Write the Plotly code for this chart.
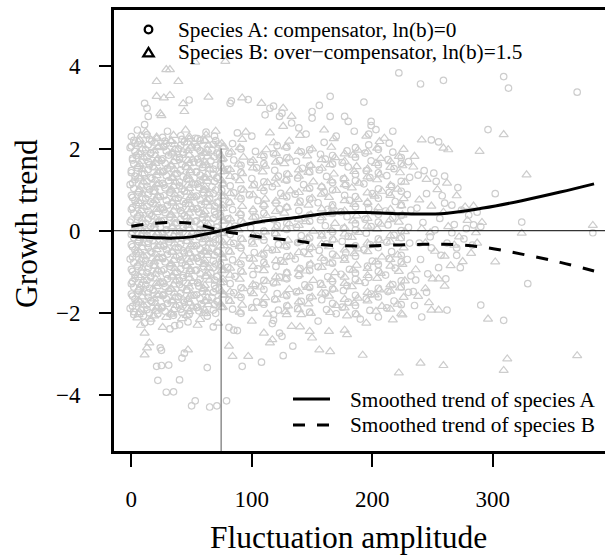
import plotly.graph_objects as go

# ---------------- data ----------------
x_ticks = [0, 100, 200, 300]
y_ticks = [-4, -2, 0, 2, 4]
x_range = [-14.4, 393.1]
y_range = [-5.36, 5.37]
threshold_x = 74.5
threshold_top = 2.0

trend_x = [0, 20, 35, 50, 62, 74, 90, 109, 137, 163, 195, 227, 260, 292, 324, 356, 384]
trend_a = [-0.14, -0.17, -0.18, -0.15, -0.08, 0.0, 0.12, 0.23, 0.32, 0.42, 0.44, 0.41, 0.42, 0.55, 0.73, 0.94, 1.14]
trend_b = [0.11, 0.18, 0.2, 0.18, 0.1, 0.0, -0.08, -0.16, -0.25, -0.35, -0.37, -0.34, -0.33, -0.40, -0.57, -0.77, -0.98]

# Species A (circles)
a_core_left = [
    (0,2.29),(13,2.33),(26,2.27),(41,2.31),(53,2.25),(69,2.3),
    (3,2.13),(17,2.18),(29,2.12),(44,2.16),(57,2.19),(72,2.11),
    (-1,2.02),(12,1.97),(27,2.04),(39,1.99),(55,2.01),(67,1.96),
    (4,1.83),(16,1.88),(31,1.84),(43,1.86),(58,1.82),(73,1.87),
    (1,1.72),(14,1.68),(25,1.71),(40,1.73),(52,1.67),(66,1.7),
    (5,1.53),(18,1.57),(30,1.52),(45,1.56),(59,1.54),(74,1.58),
    (0,1.41),(11,1.38),(26,1.43),(38,1.39),(54,1.42),(68,1.37),
    (3,1.24),(17,1.27),(31,1.22),(46,1.26),(57,1.23),(71,1.28),
    (-1,1.12),(13,1.08),(27,1.11),(40,1.09),(53,1.13),(67,1.07),
    (6,0.94),(19,0.97),(32,0.93),(44,0.96),(60,0.92),(75,0.98),
    (1,0.81),(12,0.78),(24,0.83),(39,0.79),(52,0.82),(65,0.77),
    (4,0.63),(18,0.67),(30,0.62),(45,0.66),(58,0.64),(72,0.68),
    (0,0.52),(14,0.48),(27,0.51),(41,0.49),(54,0.53),(69,0.47),
    (5,0.34),(17,0.37),(32,0.33),(44,0.36),(59,0.32),(74,0.38),
    (-1,0.21),(12,0.18),(25,0.23),(38,0.19),(53,0.22),(66,0.17),
    (3,0.04),(19,0.07),(29,0.02),(43,0.06),(57,0.03),(71,0.08),
    (0,-0.09),(13,-0.12),(26,-0.08),(40,-0.11),(55,-0.07),(68,-0.13),
    (6,-0.26),(18,-0.23),(31,-0.27),(46,-0.24),(59,-0.28),(73,-0.22),
    (1,-0.39),(14,-0.42),(27,-0.38),(39,-0.41),(52,-0.37),(67,-0.43),
    (4,-0.56),(17,-0.53),(30,-0.57),(44,-0.54),(58,-0.58),(72,-0.52),
    (-1,-0.69),(12,-0.72),(26,-0.68),(41,-0.71),(54,-0.67),(68,-0.73),
    (5,-0.86),(19,-0.83),(32,-0.87),(45,-0.84),(60,-0.88),(74,-0.82),
    (1,-0.99),(13,-1.02),(25,-0.98),(38,-1.01),(53,-0.97),(66,-1.03),
    (3,-1.16),(16,-1.13),(30,-1.17),(43,-1.14),(57,-1.18),(71,-1.12),
    (0,-1.29),(12,-1.32),(27,-1.28),(40,-1.31),(55,-1.27),(69,-1.33),
    (6,-1.46),(18,-1.43),(31,-1.47),(46,-1.44),(59,-1.48),(73,-1.42),
    (1,-1.59),(14,-1.62),(26,-1.58),(39,-1.61),(52,-1.57),(67,-1.63),
    (4,-1.76),(17,-1.73),(30,-1.77),(44,-1.74),(58,-1.78),(72,-1.72),
    (-1,-1.89),(13,-1.92),(25,-1.88),(41,-1.91),(54,-1.87),(68,-1.93),
    (2,-2.04),(10,-2.07),(22,-2.02),(35,-2.06),(48,-2.03),(63,-2.08),
]
a_fill_left = [
    (2,2.2),(15,2.23),(28,2.18),(42,2.22),(55,2.24),(70,2.19),
    (0,2.06),(14,2.09),(27,2.05),(41,2.08),(54,2.04),(68,2.1),
    (3,1.93),(16,1.9),(29,1.94),(43,1.91),(57,1.95),(71,1.89),
    (1,1.76),(13,1.79),(26,1.75),(40,1.78),(55,1.74),(69,1.8),
    (2,1.63),(15,1.6),(28,1.64),(42,1.61),(56,1.65),(70,1.59),
    (0,1.46),(14,1.49),(27,1.45),(41,1.48),(54,1.44),(68,1.5),
    (3,1.33),(16,1.3),(29,1.34),(43,1.31),(57,1.35),(71,1.29),
    (1,1.16),(13,1.19),(26,1.15),(40,1.18),(55,1.14),(69,1.2),
    (2,1.03),(15,1.0),(28,1.04),(42,1.01),(56,1.05),(70,0.99),
    (0,0.86),(14,0.89),(27,0.85),(41,0.88),(54,0.84),(68,0.9),
    (3,0.73),(16,0.7),(29,0.74),(43,0.71),(57,0.75),(71,0.69),
    (1,0.56),(13,0.59),(26,0.55),(40,0.58),(55,0.54),(69,0.6),
    (2,0.43),(15,0.4),(28,0.44),(42,0.41),(56,0.45),(70,0.39),
    (0,0.26),(14,0.29),(27,0.25),(41,0.28),(54,0.24),(68,0.3),
    (3,0.13),(16,0.1),(29,0.14),(43,0.11),(57,0.15),(71,0.09),
    (1,-0.04),(13,-0.01),(26,-0.05),(40,-0.02),(55,-0.06),(69,0.0),
    (2,-0.17),(15,-0.2),(28,-0.16),(42,-0.19),(56,-0.15),(70,-0.21),
    (0,-0.34),(14,-0.31),(27,-0.35),(41,-0.32),(54,-0.36),(68,-0.3),
    (3,-0.47),(16,-0.5),(29,-0.46),(43,-0.49),(57,-0.45),(71,-0.51),
    (1,-0.64),(13,-0.61),(26,-0.65),(40,-0.62),(55,-0.66),(69,-0.6),
    (2,-0.77),(15,-0.8),(28,-0.76),(42,-0.79),(56,-0.75),(70,-0.81),
    (0,-0.94),(14,-0.91),(27,-0.95),(41,-0.92),(54,-0.96),(68,-0.9),
    (3,-1.07),(16,-1.1),(29,-1.06),(43,-1.09),(57,-1.05),(71,-1.11),
    (1,-1.24),(13,-1.21),(26,-1.25),(40,-1.22),(55,-1.26),(69,-1.2),
    (2,-1.37),(15,-1.4),(28,-1.36),(42,-1.39),(56,-1.35),(70,-1.41),
    (0,-1.54),(14,-1.51),(27,-1.55),(41,-1.52),(54,-1.56),(68,-1.5),
    (3,-1.67),(16,-1.7),(29,-1.66),(43,-1.69),(57,-1.65),(71,-1.71),
    (1,-1.84),(13,-1.81),(26,-1.85),(40,-1.82),(55,-1.86),(69,-1.8),
    (2,-1.97),(15,-2.0),(28,-1.96),(42,-1.99),(56,-1.95),(70,-2.01),
]
a_core_mid = [
    (84,2.12),(121,2.07),(160,2.15),(197,2.09),(214,2.13),
    (81,1.88),(103,1.93),(118,1.87),(141,1.92),(157,1.86),(179,1.94),(194,1.89),(217,1.91),
    (85,1.72),(99,1.67),(123,1.71),(137,1.69),(161,1.74),(175,1.66),(199,1.7),(213,1.73),(230,1.68),
    (80,1.49),(104,1.53),(119,1.47),(142,1.52),(156,1.48),(180,1.55),(195,1.46),(218,1.51),
    (86,1.31),(100,1.27),(122,1.33),(138,1.28),(162,1.32),(176,1.26),(198,1.29),(212,1.34),(231,1.3),
    (82,1.09),(102,1.13),(117,1.07),(143,1.12),(158,1.06),(178,1.11),(193,1.14),(216,1.08),
    (85,0.92),(98,0.87),(124,0.91),(136,0.89),(160,0.94),(177,0.86),(200,0.9),(214,0.93),(229,0.88),
    (81,0.69),(105,0.73),(120,0.67),(140,0.72),(155,0.68),(181,0.74),(196,0.66),(219,0.71),
    (84,0.51),(101,0.47),(123,0.53),(139,0.49),(163,0.52),(174,0.46),(197,0.54),(211,0.48),(232,0.5),
    (80,0.29),(103,0.33),(118,0.27),(144,0.31),(157,0.26),(179,0.34),(194,0.28),(217,0.32),
    (86,0.11),(99,0.07),(121,0.13),(137,0.09),(161,0.12),(176,0.06),(199,0.1),(213,0.14),(230,0.08),
    (82,-0.09),(104,-0.13),(119,-0.07),(141,-0.12),(158,-0.08),(180,-0.14),(195,-0.06),(218,-0.11),
    (85,-0.31),(100,-0.27),(122,-0.33),(138,-0.29),(162,-0.32),(175,-0.26),(198,-0.34),(212,-0.28),(231,-0.3),
    (81,-0.49),(102,-0.53),(117,-0.47),(143,-0.52),(156,-0.48),(178,-0.54),(193,-0.46),(216,-0.51),
    (84,-0.71),(98,-0.67),(124,-0.73),(136,-0.69),(160,-0.72),(177,-0.66),(200,-0.74),(214,-0.68),(229,-0.7),
    (80,-0.89),(105,-0.93),(120,-0.87),(140,-0.92),(155,-0.88),(181,-0.94),(196,-0.86),(219,-0.91),
    (86,-1.11),(101,-1.07),(123,-1.13),(139,-1.09),(163,-1.12),(174,-1.06),(197,-1.14),(211,-1.08),(232,-1.1),
    (82,-1.29),(103,-1.33),(118,-1.27),(144,-1.32),(157,-1.28),(179,-1.34),(194,-1.26),(217,-1.31),
    (85,-1.51),(99,-1.47),(121,-1.53),(137,-1.49),(161,-1.52),(176,-1.46),(199,-1.54),(213,-1.48),(230,-1.5),
    (81,-1.69),(104,-1.73),(119,-1.67),(141,-1.72),(158,-1.68),(180,-1.74),(195,-1.66),(218,-1.71),
    (84,-1.91),(100,-1.87),(122,-1.93),(138,-1.89),(162,-1.92),(175,-1.86),(198,-1.94),(212,-1.88),
]
a_fill_mid = [
    (91,1.99),(129,2.03),(148,1.97),(186,2.02),(205,1.98),
    (110,1.81),(129,1.77),(167,1.83),(186,1.79),(224,1.78),
    (91,1.59),(110,1.63),(148,1.58),(167,1.62),(205,1.6),(224,1.64),
    (91,1.42),(129,1.38),(148,1.43),(186,1.37),(205,1.41),
    (110,1.19),(129,1.23),(167,1.17),(186,1.22),(224,1.2),
    (91,1.01),(110,0.97),(148,1.03),(167,0.99),(205,1.02),(224,0.96),
    (91,0.78),(129,0.82),(148,0.77),(186,0.83),(205,0.79),
    (110,0.61),(129,0.57),(167,0.63),(186,0.58),(224,0.62),
    (91,0.39),(110,0.43),(148,0.38),(167,0.42),(205,0.4),(224,0.37),
    (91,0.22),(129,0.18),(148,0.23),(186,0.17),(205,0.21),
    (110,-0.01),(129,0.03),(167,-0.03),(186,0.02),(224,0.0),
    (91,-0.19),(110,-0.23),(148,-0.18),(167,-0.22),(205,-0.2),(224,-0.17),
    (91,-0.42),(129,-0.38),(148,-0.43),(186,-0.37),(205,-0.41),
    (110,-0.59),(129,-0.63),(167,-0.57),(186,-0.62),(224,-0.6),
    (91,-0.81),(110,-0.77),(148,-0.83),(167,-0.79),(205,-0.82),(224,-0.76),
    (91,-0.98),(129,-1.02),(148,-0.97),(186,-1.03),(205,-0.99),
    (110,-1.21),(129,-1.17),(167,-1.23),(186,-1.18),(224,-1.22),
    (91,-1.39),(110,-1.43),(148,-1.38),(167,-1.42),(205,-1.4),(224,-1.37),
    (91,-1.62),(129,-1.58),(148,-1.63),(186,-1.57),(205,-1.61),
    (110,-1.79),(129,-1.83),(167,-1.77),(186,-1.82),(224,-1.8),
    (91,-2.01),(148,-1.98),(186,-2.02),
]
a_top = [
    (11,3.1),(13,2.98),(14,2.78),(11,2.58),(48,3.18),(82,3.1),(83,3.16),(97,3.19),(115,2.98),
    (118,3.03),(111,2.82),(123,2.78),(125,2.86),(133,2.62),(139,2.5),(150,2.9),(150,2.74),
    (156,3.05),(165,3.27),(165,2.78),(177,2.78),(180,2.66),(193,3.13),(199,2.66),(199,2.56),
    (203,2.46),(197,2.35),(217,2.42),(222,3.84),(240,3.57),(259,3.66),(309,3.75),(313,3.47),
    (370,3.37),(296,2.46),(249,2.21),(255,2.16),(5,2.45),(30,2.42),(62,2.4),(88,2.38),
    (100,2.3),(145,2.35),(170,2.3),(185,2.42),
]
a_bottom = [
    (21,-3.3),(25,-3.28),(31,-3.27),(22,-3.64),(40,-3.63),(29,-3.93),(35,-3.92),(50,-4.26),
    (53,-4.14),(65,-4.29),(71,-4.26),(79,-4.14),(63,-3.33),(24,-2.85),(25,-2.91),(44,-2.98),
    (42,-3.1),(68,-2.34),(81,-2.35),(85,-2.42),(88,-2.43),(92,-3.3),(108,-3.2),(126,-3.04),
    (123,-2.49),(125,-2.57),(134,-2.81),(118,-2.04),(118,-2.18),(117,-2.26),(170,-2.02),
    (11,-2.24),(16,-2.21),(32,-2.39),(36,-2.31),(40,-2.29),(47,-2.22),(155,-2.2),(190,-2.15),(205,-2.1),
]
a_right = [
    (235,-1.82),(241,-2.1),(262,-1.93),(261,-1.17),(234,-1.48),(249,-0.42),(270,-0.42),
    (290,-1.81),(309,-2.18),(329,-1.29),(302,0.9),(324,0.21),(383,-0.05),
    (238,1.35),(243,1.46),(251,1.4),(253,1.2),(260,1.33),(260,0.67),(274,0.5),(245,0.9),
    (256,0.3),(268,0.15),(284,0.14),(248,-0.15),(262,-0.3),(276,-0.2),(290,0.1),(240,-0.7),
    (255,-0.9),(266,-0.05),(280,0.38),(237,0.55),(246,-1.05),(270,-0.6),(283,-0.35),(242,0.2),
    (258,0.85),(271,1.05),(287,0.45),(266,0.62),(278,0.05),(252,0.02),(239,-0.3),(257,-0.6),
    (245,-1.5),(236,-1.2),(273,-0.9),
]

# Species B (triangles)
b_core_left = [
    (7,2.21),(21,2.24),(33,2.19),(48,2.23),(61,2.2),
    (9,2.09),(23,2.05),(36,2.1),(50,2.06),(64,2.08),(77,2.04),
    (6,1.9),(19,1.94),(34,1.91),(47,1.95),(60,1.89),
    (10,1.79),(22,1.75),(37,1.78),(51,1.74),(63,1.8),(76,1.76),
    (7,1.61),(20,1.64),(33,1.6),(48,1.63),(62,1.59),
    (9,1.49),(24,1.45),(36,1.48),(49,1.46),(65,1.5),(77,1.44),
    (6,1.31),(21,1.34),(34,1.3),(47,1.33),(60,1.29),
    (10,1.19),(23,1.15),(37,1.18),(51,1.16),(63,1.2),(76,1.14),
    (7,1.0),(19,1.04),(33,1.01),(48,1.03),(61,0.99),
    (9,0.89),(22,0.85),(36,0.88),(50,0.86),(64,0.9),(77,0.84),
    (6,0.71),(20,0.74),(34,0.7),(47,0.73),(62,0.69),
    (10,0.59),(24,0.55),(37,0.58),(51,0.56),(65,0.6),(76,0.54),
    (7,0.41),(21,0.44),(33,0.4),(48,0.43),(60,0.39),
    (9,0.29),(23,0.25),(36,0.28),(49,0.26),(63,0.3),(77,0.24),
    (6,0.11),(19,0.14),(34,0.1),(47,0.13),(61,0.09),
    (10,-0.01),(22,-0.05),(37,-0.02),(51,-0.04),(64,0.0),(76,-0.06),
    (7,-0.19),(20,-0.16),(33,-0.2),(48,-0.17),(62,-0.21),
    (9,-0.31),(24,-0.35),(36,-0.32),(50,-0.34),(65,-0.3),(77,-0.36),
    (6,-0.49),(21,-0.46),(34,-0.5),(47,-0.47),(60,-0.51),
    (10,-0.61),(23,-0.65),(37,-0.62),(51,-0.64),(63,-0.6),(76,-0.66),
    (7,-0.79),(19,-0.76),(33,-0.8),(48,-0.77),(61,-0.81),
    (9,-0.91),(22,-0.95),(36,-0.92),(49,-0.94),(64,-0.9),(77,-0.96),
    (6,-1.09),(20,-1.06),(34,-1.1),(47,-1.07),(62,-1.11),
    (10,-1.21),(24,-1.25),(37,-1.22),(51,-1.24),(65,-1.2),(76,-1.26),
    (7,-1.39),(21,-1.36),(33,-1.4),(48,-1.37),(60,-1.41),
    (9,-1.51),(23,-1.55),(36,-1.52),(50,-1.54),(63,-1.5),(77,-1.56),
    (6,-1.69),(19,-1.66),(34,-1.7),(47,-1.67),(61,-1.71),
    (10,-1.81),(22,-1.85),(37,-1.82),(51,-1.84),(64,-1.8),(76,-1.86),
    (7,-1.99),(20,-1.96),(33,-2.0),(48,-1.97),(62,-2.01),
    (5,-2.12),(16,-2.15),(29,-2.11),(42,-2.14),(57,-2.16),
]
b_fill_left = [
    (8,2.31),(21,2.28),(35,2.32),(48,2.29),(62,2.33),
    (6,2.16),(20,2.13),(33,2.17),(47,2.14),(61,2.18),(75,2.12),
    (9,1.99),(22,2.02),(36,1.98),(49,2.01),(63,1.97),(76,2.03),
    (7,1.86),(20,1.83),(34,1.87),(48,1.84),(62,1.88),(74,1.82),
    (8,1.69),(21,1.72),(35,1.68),(47,1.71),(61,1.67),(75,1.73),
    (6,1.56),(19,1.53),(33,1.57),(46,1.54),(60,1.58),(76,1.52),
    (9,1.39),(22,1.42),(36,1.38),(49,1.41),(63,1.37),(74,1.43),
    (7,1.26),(20,1.23),(34,1.27),(48,1.24),(62,1.28),(75,1.22),
    (8,1.09),(21,1.12),(35,1.08),(47,1.11),(61,1.07),(76,1.13),
    (6,0.96),(19,0.93),(33,0.97),(46,0.94),(60,0.98),(74,0.92),
    (9,0.79),(22,0.82),(36,0.78),(49,0.81),(63,0.77),(75,0.83),
    (7,0.66),(20,0.63),(34,0.67),(48,0.64),(62,0.68),(76,0.62),
    (8,0.49),(21,0.52),(35,0.48),(47,0.51),(61,0.47),(74,0.53),
    (6,0.36),(19,0.33),(33,0.37),(46,0.34),(60,0.38),(75,0.32),
    (9,0.19),(22,0.22),(36,0.18),(49,0.21),(63,0.17),(76,0.23),
    (7,0.06),(20,0.03),(34,0.07),(48,0.04),(62,0.08),(74,0.02),
    (8,-0.11),(21,-0.08),(35,-0.12),(47,-0.09),(61,-0.13),(75,-0.07),
    (6,-0.24),(19,-0.27),(33,-0.23),(46,-0.26),(60,-0.22),(76,-0.28),
    (9,-0.41),(22,-0.38),(36,-0.42),(49,-0.39),(63,-0.43),(74,-0.37),
    (7,-0.54),(20,-0.57),(34,-0.53),(48,-0.56),(62,-0.52),(75,-0.58),
    (8,-0.71),(21,-0.68),(35,-0.72),(47,-0.69),(61,-0.73),(76,-0.67),
    (6,-0.84),(19,-0.87),(33,-0.83),(46,-0.86),(60,-0.82),(74,-0.88),
    (9,-1.01),(22,-0.98),(36,-1.02),(49,-0.99),(63,-1.03),(75,-0.97),
    (7,-1.14),(20,-1.17),(34,-1.13),(48,-1.16),(62,-1.12),(76,-1.18),
    (8,-1.31),(21,-1.28),(35,-1.32),(47,-1.29),(61,-1.33),(74,-1.27),
    (6,-1.44),(19,-1.47),(33,-1.43),(46,-1.46),(60,-1.42),(75,-1.48),
    (9,-1.61),(22,-1.58),(36,-1.62),(49,-1.59),(63,-1.63),(76,-1.57),
    (7,-1.74),(20,-1.77),(34,-1.73),(48,-1.76),(62,-1.72),(74,-1.78),
    (8,-1.91),(21,-1.88),(35,-1.92),(47,-1.89),(61,-1.93),(75,-1.87),
    (6,-2.04),(19,-2.07),(33,-2.03),(46,-2.06),(60,-2.02),
]
b_core_mid = [
    (92,2.22),(131,2.18),(168,2.24),(206,2.17),
    (90,2.02),(112,1.97),(128,2.04),(150,1.99),(166,2.03),(188,1.96),(204,2.01),(226,1.98),
    (93,1.79),(108,1.83),(131,1.77),(146,1.82),(169,1.78),(184,1.84),(207,1.76),(222,1.81),
    (89,1.62),(111,1.57),(127,1.63),(149,1.59),(165,1.61),(187,1.56),(203,1.64),(225,1.58),
    (92,1.39),(109,1.43),(130,1.37),(147,1.42),(168,1.38),(185,1.44),(206,1.36),(223,1.41),
    (90,1.22),(113,1.17),(128,1.23),(151,1.19),(166,1.21),(189,1.16),(204,1.24),(227,1.18),
    (93,0.99),(108,1.03),(132,0.97),(146,1.02),(170,0.98),(183,1.04),(208,0.96),(221,1.01),
    (89,0.82),(111,0.77),(126,0.83),(150,0.79),(164,0.81),(188,0.76),(202,0.84),(226,0.78),
    (92,0.59),(110,0.63),(129,0.57),(147,0.62),(167,0.58),(185,0.64),(205,0.56),(224,0.61),
    (90,0.42),(112,0.37),(127,0.43),(149,0.39),(165,0.41),(187,0.36),(203,0.44),(225,0.38),
    (93,0.19),(107,0.23),(131,0.17),(145,0.22),(169,0.18),(184,0.24),(207,0.16),(222,0.21),
    (89,0.02),(111,-0.03),(128,0.03),(151,-0.01),(166,0.01),(189,-0.04),(204,0.04),(227,-0.02),
    (92,-0.21),(109,-0.17),(130,-0.23),(146,-0.18),(168,-0.22),(183,-0.16),(206,-0.24),(223,-0.19),
    (90,-0.38),(113,-0.43),(127,-0.37),(150,-0.41),(164,-0.39),(188,-0.44),(202,-0.36),(226,-0.42),
    (93,-0.61),(108,-0.57),(132,-0.63),(147,-0.58),(170,-0.62),(185,-0.56),(208,-0.64),(221,-0.59),
    (89,-0.78),(111,-0.83),(126,-0.77),(149,-0.81),(165,-0.79),(187,-0.84),(203,-0.76),(225,-0.82),
    (92,-1.01),(110,-0.97),(129,-1.03),(145,-0.98),(169,-1.02),(184,-0.96),(207,-1.04),(222,-0.99),
    (90,-1.18),(112,-1.23),(128,-1.17),(151,-1.21),(166,-1.19),(189,-1.24),(204,-1.16),(227,-1.22),
    (93,-1.41),(107,-1.37),(131,-1.43),(146,-1.38),(168,-1.42),(183,-1.36),(206,-1.44),(223,-1.39),
    (89,-1.58),(111,-1.63),(127,-1.57),(150,-1.61),(164,-1.59),(188,-1.64),(202,-1.56),(226,-1.62),
    (92,-1.81),(109,-1.77),(130,-1.83),(147,-1.78),(170,-1.82),(185,-1.76),(208,-1.84),(221,-1.79),
    (90,-1.98),(113,-2.03),(128,-1.97),(149,-2.01),(165,-1.99),(187,-2.04),(203,-1.96),(224,-2.02),
]
b_fill_mid = [
    (83,1.91),(120,1.88),(139,1.93),(177,1.87),(196,1.92),
    (101,1.71),(120,1.67),(158,1.73),(177,1.69),(215,1.68),
    (82,1.49),(101,1.53),(139,1.48),(158,1.52),(196,1.5),(215,1.54),
    (82,1.32),(120,1.28),(139,1.33),(177,1.27),(196,1.31),
    (101,1.09),(120,1.13),(158,1.07),(177,1.12),(215,1.1),
    (82,0.91),(101,0.87),(139,0.93),(158,0.89),(196,0.92),(215,0.86),
    (82,0.68),(120,0.72),(139,0.67),(177,0.73),(196,0.69),
    (101,0.51),(120,0.47),(158,0.53),(177,0.48),(215,0.52),
    (82,0.29),(101,0.33),(139,0.28),(158,0.32),(196,0.3),(215,0.27),
    (82,0.12),(120,0.08),(139,0.13),(177,0.07),(196,0.11),
    (101,-0.11),(120,-0.07),(158,-0.13),(177,-0.08),(215,-0.12),
    (82,-0.29),(101,-0.33),(139,-0.28),(158,-0.32),(196,-0.3),(215,-0.27),
    (82,-0.52),(120,-0.48),(139,-0.53),(177,-0.47),(196,-0.51),
    (101,-0.69),(120,-0.73),(158,-0.67),(177,-0.72),(215,-0.7),
    (82,-0.91),(101,-0.87),(139,-0.93),(158,-0.89),(196,-0.92),(215,-0.86),
    (82,-1.08),(120,-1.12),(139,-1.07),(177,-1.13),(196,-1.09),
    (101,-1.31),(120,-1.27),(158,-1.33),(177,-1.28),(215,-1.32),
    (82,-1.49),(101,-1.53),(139,-1.48),(158,-1.52),(196,-1.5),(215,-1.47),
    (82,-1.72),(120,-1.68),(139,-1.73),(177,-1.67),(196,-1.71),
    (101,-1.89),(139,-1.92),(177,-1.88),(215,-1.91),
]
b_top = [
    (29,3.92),(32,3.92),(21,3.63),(39,3.63),(53,4.1),(78,4.12),(21,3.27),(27,3.23),(32,3.29),
    (24,2.85),(25,2.8),(43,3.09),(44,2.9),(64,3.25),(92,3.23),(108,3.1),(126,2.98),(133,2.78),
    (126,2.54),(115,2.38),(118,2.14),(241,2.21),(259,2.01),(263,1.97),(289,1.93),(235,1.81),
    (309,2.34),(328,1.36),(383,0.13),(12,2.4),(45,2.45),(70,2.42),(95,2.4),(140,2.32),
    (160,2.45),(195,2.3),(210,2.25),
]
b_bottom = [
    (11,-3.02),(13,-2.85),(15,-2.73),(11,-2.49),(47,-2.9),(81,-2.81),(84,-3.06),(97,-3.06),
    (110,-2.49),(115,-2.73),(117,-2.65),(133,-2.33),(140,-2.34),(148,-2.45),(150,-2.61),
    (156,-2.9),(165,-2.94),(164,-2.45),(179,-2.53),(177,-2.42),(179,-2.07),(141,-2.04),
    (129,-2.04),(192,-3.03),(222,-3.46),(240,-3.22),(259,-3.28),(312,-3.12),(309,-3.4),
    (370,-3.04),(217,-2.17),(296,-2.15),(8,-2.3),(26,-2.35),(55,-2.3),(72,-2.25),(100,-2.2),
    (195,-2.25),(225,-2.05),
]
b_right = [
    (249,-1.93),(255,-1.93),(250,-1.17),(255,-1.17),(260,-1.35),(244,-1.41),(260,-0.62),
    (302,-0.76),(324,-0.06),(234,1.55),(262,1.16),(277,0.58),(249,0.6),(241,0.05),(259,0.45),
    (272,-0.15),(286,-0.05),(252,-0.5),(265,-0.85),(244,-0.3),(236,-0.95),(279,0.25),(254,1.0),
    (238,-1.6),(247,-1.75),(268,-0.35),(282,-0.55),(291,0.2),(245,1.25),(270,0.85),(284,0.6),
    (263,0.1),(248,-0.05),(275,-0.75),(239,0.75),(287,-0.3),
]

legend_points = ["Species A: compensator, ln(b)=0", "Species B: over\u2212compensator, ln(b)=1.5"]
legend_lines = ["Smoothed trend of species A", "Smoothed trend of species B"]
x_title = "Fluctuation amplitude"
y_title = "Growth trend"

# ---------------- figure ----------------
species_a = a_core_left + a_fill_left + a_core_mid + a_fill_mid + a_top + a_bottom + a_right
species_b = b_core_left + b_fill_left + b_core_mid + b_fill_mid + b_top + b_bottom + b_right

W, H = 605, 558
PL, PR, PT, PB = 114, 605, 10, 451
FONT = "Liberation Serif"
GREY = "#CDCDCD"


def pxx(v):
    return (v - PL) / (PR - PL)


def pxy(v):
    return (PB - v) / (PB - PT)


fig = go.Figure()
fig.add_trace(go.Scatter(
    x=[p[0] for p in species_a], y=[p[1] for p in species_a], mode="markers",
    marker=dict(symbol="circle-open", size=6.5, color=GREY, line=dict(width=1.2, color=GREY)),
    showlegend=False, hoverinfo="skip"))
fig.add_trace(go.Scatter(
    x=[p[0] for p in species_b], y=[p[1] for p in species_b], mode="markers",
    marker=dict(symbol="triangle-up-open", size=8, color=GREY, line=dict(width=1.2, color=GREY)),
    showlegend=False, hoverinfo="skip"))
fig.add_trace(go.Scatter(
    x=trend_x, y=trend_a, mode="lines", line=dict(color="black", width=3, shape="spline"),
    showlegend=False, hoverinfo="skip"))
fig.add_trace(go.Scatter(
    x=trend_x, y=trend_b, mode="lines",
    line=dict(color="black", width=3, shape="spline", dash="12px,12px"),
    showlegend=False, hoverinfo="skip"))

shapes = [
    dict(type="line", xref="paper", yref="y", x0=0, x1=1, y0=0, y1=0,
         line=dict(color="black", width=1)),
    dict(type="line", xref="x", yref="y", x0=threshold_x, x1=threshold_x,
         y0=y_range[0], y1=threshold_top, line=dict(color="#555555", width=1)),
    # legend symbols (top-left)
    dict(type="circle", xref="paper", yref="paper", xsizemode="pixel", ysizemode="pixel",
         xanchor=pxx(148.5), yanchor=pxy(29.5), x0=-3.8, x1=3.8, y0=-3.8, y1=3.8,
         line=dict(color="black", width=2.3)),
    dict(type="path", xref="paper", yref="paper", xsizemode="pixel", ysizemode="pixel",
         xanchor=pxx(148.5), yanchor=pxy(52.5), path="M -5.2 -3.8 L 5.2 -3.8 L 0 4.6 Z",
         line=dict(color="black", width=2.3)),
    # legend lines (bottom-right)
    dict(type="line", xref="paper", yref="paper", x0=pxx(293), x1=pxx(330),
         y0=pxy(399), y1=pxy(399), line=dict(color="black", width=3)),
    dict(type="line", xref="paper", yref="paper", x0=pxx(293), x1=pxx(330),
         y0=pxy(425), y1=pxy(425), line=dict(color="black", width=3, dash="12px,12px")),
]

LEG = 21.3
annotations = [
    dict(text=legend_points[0], x=pxx(176), y=pxy(29.5), xref="paper", yref="paper",
         xanchor="left", yanchor="middle", showarrow=False, font=dict(family=FONT, size=LEG, color="black")),
    dict(text=legend_points[1], x=pxx(176), y=pxy(52.5), xref="paper", yref="paper",
         xanchor="left", yanchor="middle", showarrow=False, font=dict(family=FONT, size=LEG, color="black")),
    dict(text=legend_lines[0], x=pxx(347.5), y=pxy(400), xref="paper", yref="paper",
         xanchor="left", yanchor="middle", showarrow=False, font=dict(family=FONT, size=LEG, color="black")),
    dict(text=legend_lines[1], x=pxx(347.5), y=pxy(425), xref="paper", yref="paper",
         xanchor="left", yanchor="middle", showarrow=False, font=dict(family=FONT, size=LEG, color="black")),
    dict(text=x_title, x=pxx(348.5), y=pxy(537), xref="paper", yref="paper",
         xanchor="center", yanchor="middle", showarrow=False, font=dict(family=FONT, size=31.5, color="black")),
    dict(text=y_title, x=pxx(26), y=pxy(224), xref="paper", yref="paper", textangle=-90,
         xanchor="center", yanchor="middle", showarrow=False, font=dict(family=FONT, size=31.5, color="black")),
]

fig.update_layout(
    width=W, height=H, margin=dict(l=PL, r=W - PR, t=PT, b=H - PB, pad=0),
    paper_bgcolor="white", plot_bgcolor="white",
    shapes=shapes, annotations=annotations, showlegend=False,
    xaxis=dict(range=x_range, tickvals=x_ticks, ticktext=[str(v) for v in x_ticks],
               showgrid=False, zeroline=False, showline=True, linecolor="black", linewidth=3,
               mirror=True, ticks="outside", ticklen=13, tickwidth=2, tickcolor="black",
               ticklabelstandoff=12, tickfont=dict(family=FONT, size=23, color="black")),
    yaxis=dict(range=y_range, tickvals=y_ticks,
               ticktext=[str(v).replace("-", "\u2212") for v in y_ticks],
               showgrid=False, zeroline=False, showline=True, linecolor="black", linewidth=3,
               mirror=False, ticks="outside", ticklen=12, tickwidth=2, tickcolor="black",
               ticklabelstandoff=14, tickfont=dict(family=FONT, size=23, color="black")),
)

fig.write_html("out.html")
